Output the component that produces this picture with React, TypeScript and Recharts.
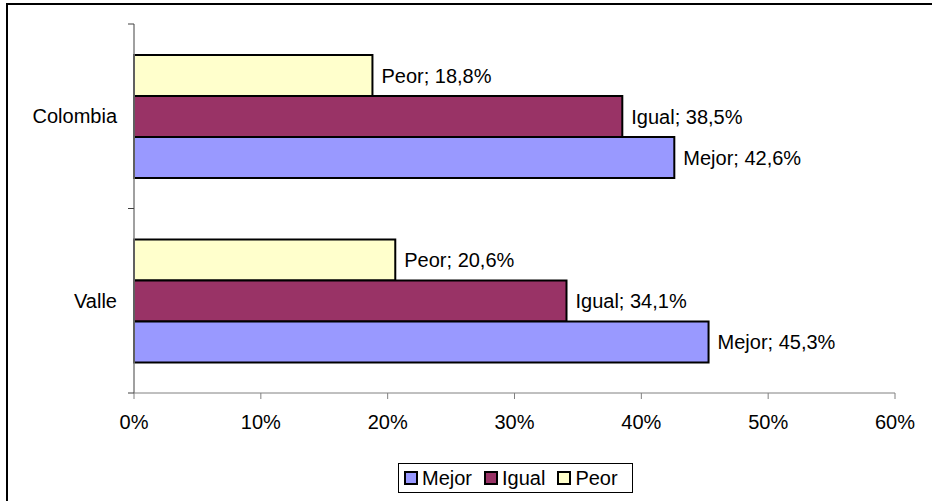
import { BarChart, Bar, XAxis, YAxis, LabelList, Legend } from 'recharts'

// ── data ──────────────────────────────────────────────────────────────────────
const regions = ['Colombia', 'Valle']
const mejor = [42.6, 45.3]
const igual = [38.5, 34.1]
const peor = [18.8, 20.6]
const xTicks = [0, 10, 20, 30, 40, 50, 60]

const series = [
  { key: 'Peor', values: peor, color: '#FFFFCC' },
  { key: 'Igual', values: igual, color: '#993366' },
  { key: 'Mejor', values: mejor, color: '#9999FF' },
]
const legendOrder = ['Mejor', 'Igual', 'Peor']

const data = regions.map((r, i) => ({
  region: r,
  Mejor: mejor[i],
  Igual: igual[i],
  Peor: peor[i],
}))

const FONT = '"Liberation Sans", Arial, sans-serif'
const fmt = (v: number) => v.toFixed(1).replace('.', ',')

const Y_TICK_SIZE = 6
const Y_TICK_MARGIN = 11

// category label + tick marks on the band edges (Excel style)
function RegionTick(props: any) {
  const { x, y, payload } = props
  const axisX = x + Y_TICK_SIZE + Y_TICK_MARGIN
  const half = payload.offset || 0
  return (
    <g>
      <line x1={axisX - Y_TICK_SIZE} x2={axisX} y1={y - half} y2={y - half} stroke="#404040" />
      <line x1={axisX - Y_TICK_SIZE} x2={axisX} y1={y + half} y2={y + half} stroke="#404040" />
      <text x={x} y={y} dy="0.355em" textAnchor="end" fill="#000" fontSize={20} fontFamily={FONT}>
        {payload.value}
      </text>
    </g>
  )
}

function LegendBox() {
  return (
    <div
      style={{
        display: 'flex',
        alignItems: 'center',
        border: '1px solid #000',
        background: '#fff',
        height: 30,
        padding: '0 8px 0 5px',
        fontFamily: FONT,
        fontSize: 20,
        color: '#000',
        boxSizing: 'border-box',
      }}
    >
      {legendOrder.map((k, i) => {
        const s = series.find((x) => x.key === k)!
        return (
          <div key={k} style={{ display: 'flex', alignItems: 'center', marginRight: i < 2 ? 12 : 0 }}>
            <span
              style={{
                width: 10,
                height: 10,
                border: '2px solid #000',
                background: s.color,
                marginRight: 4,
                display: 'inline-block',
              }}
            />
            <span>{k}</span>
          </div>
        )
      })}
    </div>
  )
}

export default function App() {
  return (
    <div style={{ position: 'absolute', left: 0, top: 0, width: 932, height: 501, overflow: 'hidden', background: '#fff' }}>
      <div
        style={{
          position: 'absolute',
          left: 6,
          top: 3,
          width: 960,
          height: 540,
          border: '2px solid #000',
          boxSizing: 'border-box',
        }}
      />
      <div style={{ position: 'absolute', left: 0, top: 0 }}>
        <BarChart
          width={932}
          height={501}
          data={data}
          layout="vertical"
          margin={{ top: 24, right: 37, bottom: 68, left: 0 }}
          barSize={41}
          barGap={0}
        >
          <XAxis
            type="number"
            domain={[0, 60]}
            ticks={xTicks}
            tickFormatter={(v: number) => `${v}%`}
            height={40}
            tickSize={6}
            tickMargin={16}
            axisLine={{ stroke: '#808080' }}
            tickLine={{ stroke: '#808080' }}
            tick={{ fill: '#000', fontSize: 20, fontFamily: FONT }}
          />
          <YAxis
            type="category"
            dataKey="region"
            width={134}
            axisLine={{ stroke: '#808080', strokeWidth: 1.5 }}
            tickLine={false}
            tickSize={Y_TICK_SIZE}
            tickMargin={Y_TICK_MARGIN}
            tick={<RegionTick />}
          />
          <Legend
            layout="horizontal"
            verticalAlign="middle"
            align="center"
            wrapperStyle={{ left: 398, top: 463, width: 235, height: 31 }}
            content={() => <LegendBox />}
          />
          {series.map((s) => (
            <Bar
              key={s.key}
              dataKey={s.key}
              fill={s.color}
              stroke="#000"
              strokeWidth={2}
              isAnimationActive={false}
            >
              <LabelList
                dataKey={s.key}
                position="right"
                offset={9}
                formatter={(v: number) => `${s.key}; ${fmt(v)}%`}
                style={{ fill: '#000', fontSize: 20, fontFamily: FONT }}
              />
            </Bar>
          ))}
        </BarChart>
      </div>
    </div>
  )
}
